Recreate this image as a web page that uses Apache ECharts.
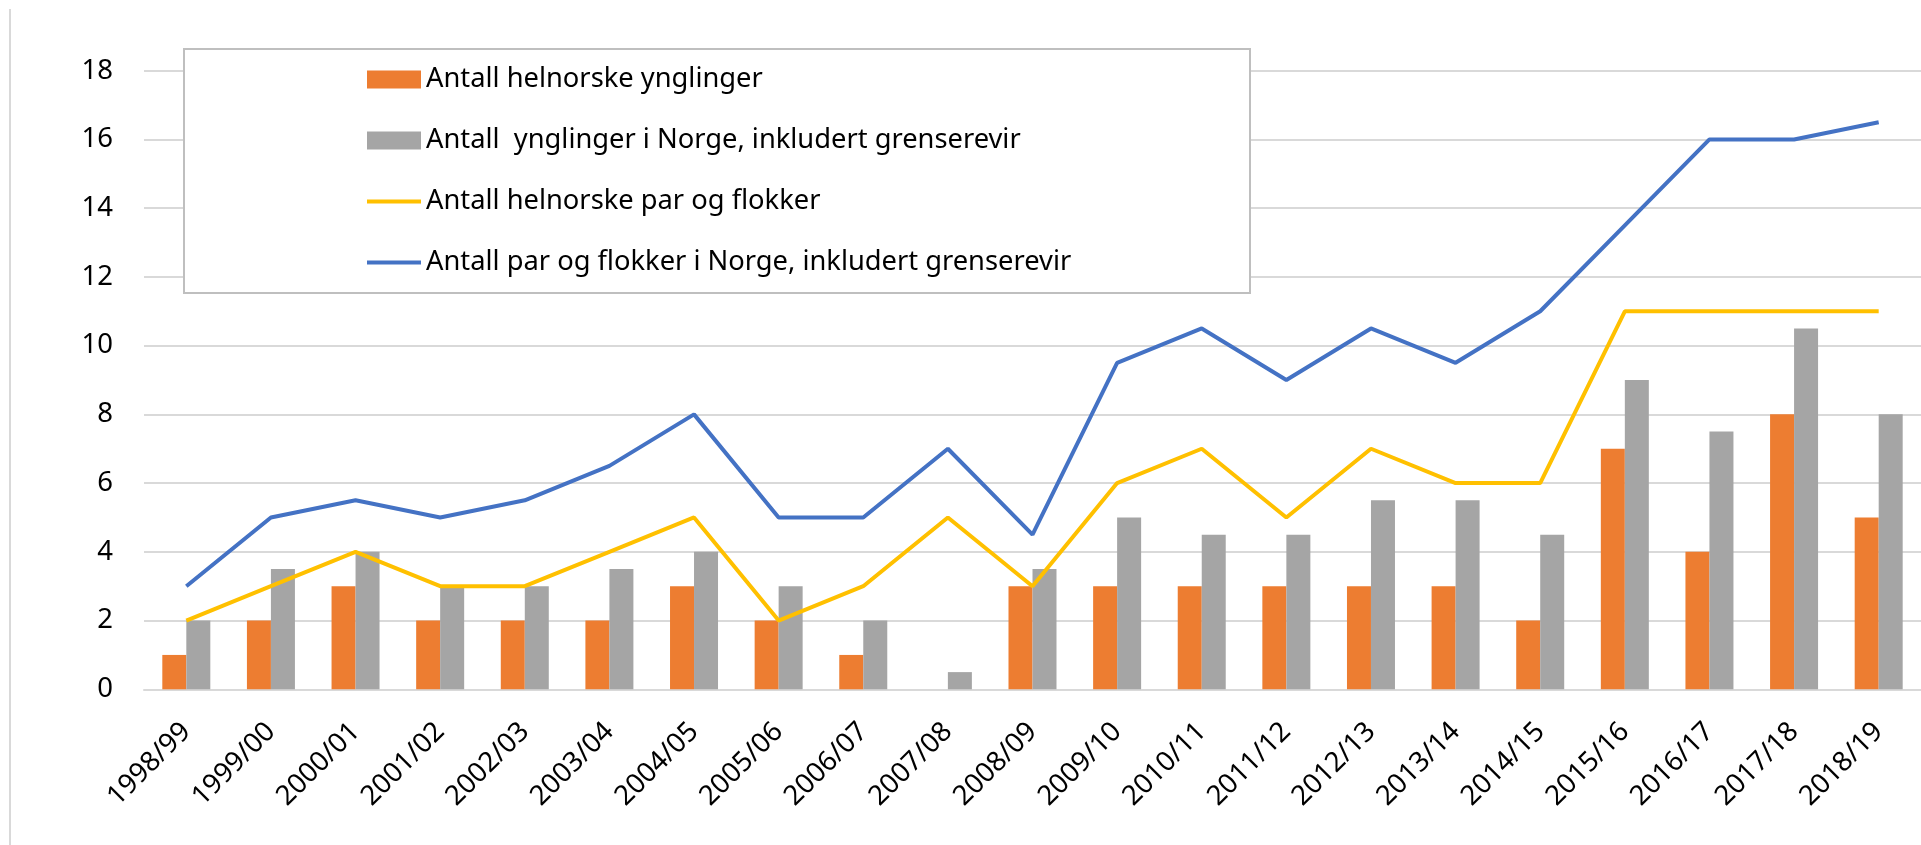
<!DOCTYPE html>
<html>
<head>
<meta charset="utf-8">
<script src="https://cdn.jsdelivr.net/npm/echarts@6/dist/echarts.min.js"></script>
<style>
  html, body { margin: 0; padding: 0; background: #fff; }
  #chart { width: 1921px; height: 845px; }
</style>
</head>
<body>
<div id="chart"></div>
<script>
var categories = ['1998/99', '1999/00', '2000/01', '2001/02', '2002/03', '2003/04', '2004/05',
	'2005/06', '2006/07', '2007/08', '2008/09', '2009/10', '2010/11', '2011/12', '2012/13',
	'2013/14', '2014/15', '2015/16', '2016/17', '2017/18', '2018/19'];
var helnorskeYnglinger = [1, 2, 3, 2, 2, 2, 3, 2, 1, 0, 3, 3, 3, 3, 3, 3, 2, 7, 4, 8, 5];
var ynglingerNorge = [2, 3.5, 4, 3, 3, 3.5, 4, 3, 2, 0.5, 3.5, 5, 4.5, 4.5, 5.5, 5.5, 4.5, 9, 7.5, 10.5, 8];
var helnorskePar = [2, 3, 4, 3, 3, 4, 5, 2, 3, 5, 3, 6, 7, 5, 7, 6, 6, 11, 11, 11, 11];
var parNorge = [3, 5, 5.5, 5, 5.5, 6.5, 8, 5, 5, 7, 4.5, 9.5, 10.5, 9, 10.5, 9.5, 11, 13.5, 16, 16, 16.5];
var yTicks = [0, 2, 4, 6, 8, 10, 12, 14, 16, 18];

var names = ['Antall helnorske ynglinger', 'Antall  ynglinger i Norge, inkludert grenserevir',
	'Antall helnorske par og flokker', 'Antall par og flokker i Norge, inkludert grenserevir'];

var font = '"Noto Sans", sans-serif';
// thin bar used as legend icon for the two lines (no dot in the middle)
var lineIcon = 'path://M0,0h54v4h-54z';

var myChart = echarts.init(document.getElementById('chart'));
var option = {
	animation: false,
	backgroundColor: '#fff',
	grid: { left: 144, top: 70.7, width: 1783, bottom: 155.7 },
	graphic: [
		{ type: 'line', z: 1, shape: { x1: 10, y1: 9, x2: 10, y2: 845 }, style: { stroke: '#D9D9D9', lineWidth: 2 } },
		{ type: 'rect', z: 5, shape: { x: 184, y: 49, width: 1066, height: 244 },
			style: { fill: '#fff', stroke: '#BFBFBF', lineWidth: 2 } }
	],
	legend: {
		z: 10,
		orient: 'vertical',
		left: 367,
		top: 66,
		padding: 0,
		itemGap: 34,
		itemWidth: 54,
		itemHeight: 18,
		data: [
			{ name: names[0], icon: 'rect' },
			{ name: names[1], icon: 'rect' },
			{ name: names[2], icon: lineIcon },
			{ name: names[3], icon: lineIcon }
		],
		textStyle: { fontFamily: font, fontSize: 27.3, color: '#000' }
	},
	xAxis: {
		type: 'category',
		data: categories,
		axisTick: { show: false },
		axisLine: { lineStyle: { color: '#D9D9D9', width: 2 } },
		axisLabel: { rotate: 45, margin: 38, fontFamily: font, fontSize: 27.5, color: '#000', interval: 0 }
	},
	yAxis: {
		type: 'value',
		min: 0,
		max: yTicks[yTicks.length - 1],
		interval: 2,
		axisLine: { show: false },
		axisTick: { show: false },
		splitLine: { lineStyle: { color: '#D9D9D9', width: 2 } },
		axisLabel: { margin: 31, fontFamily: font, fontSize: 27.5, color: '#000' }
	},
	series: [
		{ name: names[0], type: 'bar', data: helnorskeYnglinger, barWidth: 24, barGap: '0%',
			itemStyle: { color: '#ED7D31' } },
		{ name: names[1], type: 'bar', data: ynglingerNorge, barWidth: 24, barGap: '0%',
			itemStyle: { color: '#A5A5A5' } },
		{ name: names[2], type: 'line', data: helnorskePar, symbol: 'none',
			lineStyle: { color: '#FFC000', width: 4 }, itemStyle: { color: '#FFC000' } },
		{ name: names[3], type: 'line', data: parNorge, symbol: 'none',
			lineStyle: { color: '#4472C4', width: 4 }, itemStyle: { color: '#4472C4' } }
	]
};
myChart.setOption(option);
</script>
</body>
</html>
